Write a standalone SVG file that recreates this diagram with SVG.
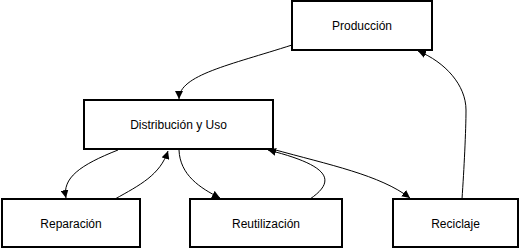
<svg xmlns="http://www.w3.org/2000/svg" width="520" height="249" viewBox="0 0 520 249">
  <style>
    .box { fill: #ffffff; stroke: #000000; stroke-width: 2; }
    .label { font-family: "Liberation Sans", Arial, sans-serif; font-size: 12px; fill: #000000; text-anchor: middle; dominant-baseline: central; }
    .edge { fill: none; stroke: #000000; stroke-width: 1; marker-end: url(#arrow); }
  </style>
  <defs>
    <marker id="arrow" viewBox="0 0 10 10" refX="10" refY="5" markerWidth="8" markerHeight="8" markerUnits="userSpaceOnUse" orient="auto">
      <path d="M0,0 L10,5 L0,10 z" fill="#000000"/>
    </marker>
  </defs>
  <rect width="520" height="249" fill="#ffffff"/>

  <g id="connectors">
    <path class="edge" d="M292,45 C230,65 179,75 179,99"/>
    <path class="edge" d="M118,150 C80,165 62,178 66,198"/>
    <path class="edge" d="M115,199 C140,185 160,175 168,151"/>
    <path class="edge" d="M179,150 C180,175 200,188 220,198"/>
    <path class="edge" d="M310,199 C338,180 328,165 268,150"/>
    <path class="edge" d="M272,149 C330,165 380,175 410,198"/>
    <path class="edge" d="M462,199 C464,170 466,130 466,110 C466,85 445,62 418,51"/>
  </g>

  <g id="produccion">
    <rect class="box" x="292" y="1" width="140" height="49"/>
    <text class="label" x="362" y="25.5">Producción</text>
  </g>
  <g id="distribucion">
    <rect class="box" x="84" y="100" width="189" height="49"/>
    <text class="label" x="178.5" y="124.5">Distribución y Uso</text>
  </g>
  <g id="reparacion">
    <rect class="box" x="2" y="199" width="138" height="48"/>
    <text class="label" x="71" y="223.5">Reparación</text>
  </g>
  <g id="reutilizacion">
    <rect class="box" x="190" y="199" width="152" height="48"/>
    <text class="label" x="266" y="223.5">Reutilización</text>
  </g>
  <g id="reciclaje">
    <rect class="box" x="393" y="199" width="125" height="48"/>
    <text class="label" x="455.5" y="223.5">Reciclaje</text>
  </g>
</svg>
